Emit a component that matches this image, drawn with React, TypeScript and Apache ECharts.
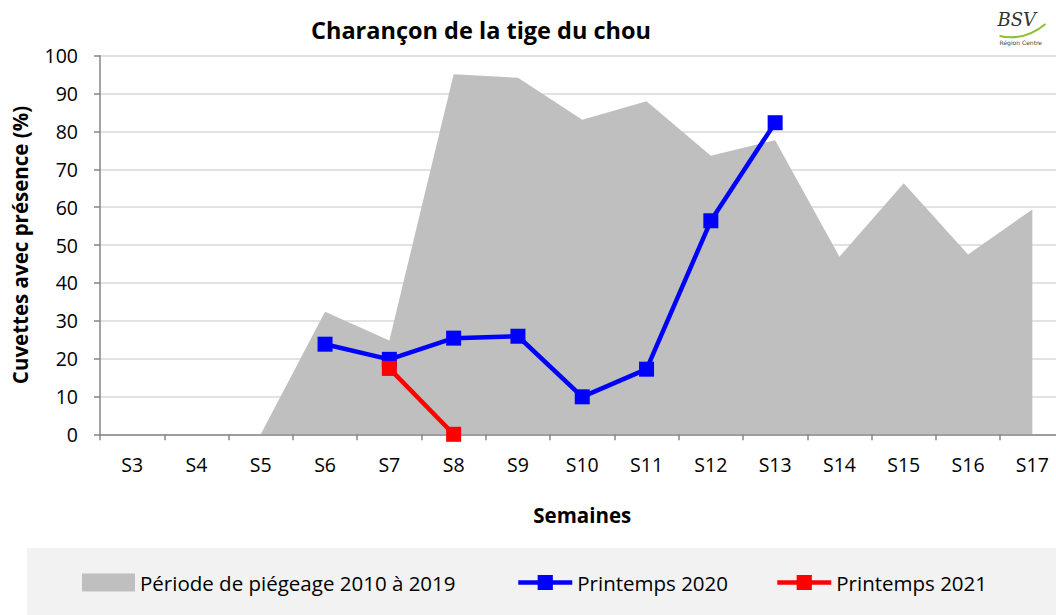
import React, { useEffect, useRef } from "react";
import * as echarts from "echarts";

const categories = ["S3", "S4", "S5", "S6", "S7", "S8", "S9", "S10", "S11", "S12", "S13", "S14", "S15", "S16", "S17"];
const periode = [0, 0, 0, 32.4, 24.8, 95.1, 94.2, 83.1, 88, 73.6, 77.7, 46.9, 66.3, 47.5, 59.4];
const printemps2020 = [null, null, null, 23.8, 19.8, 25.4, 25.9, 9.9, 17.2, 56.4, 82.3, null, null, null, null];
const printemps2021 = [null, null, null, null, 17.4, 0, null, null, null, null, null, null, null, null, null];
const yTicks = { min: 0, max: 100, interval: 10 };

const FONT = "Open Sans";

export default function App() {
  const ref = useRef<HTMLDivElement>(null);
  useEffect(() => {
    if (!ref.current) return;
    const chart = echarts.init(ref.current, null, { renderer: "svg" });
    const legendText = { fontFamily: FONT, fontSize: 20.5, color: "#000" };
    chart.setOption({
      animation: false,
      backgroundColor: "#fff",
      title: {
        text: "Charançon de la tige du chou",
        left: 476,
        textAlign: "center",
        top: 13,
        textStyle: { fontFamily: FONT, fontSize: 23.5, fontWeight: "bold", color: "#000" },
      },
      grid: { left: 100, top: 55.7, height: 378.6, width: 964.5, containLabel: false, outerBoundsMode: "none" },
      xAxis: {
        type: "category",
        data: categories,
        boundaryGap: true,
        name: "Semaines",
        nameLocation: "middle",
        nameGap: 70,
        nameTextStyle: { fontFamily: FONT, fontSize: 20.5, fontWeight: "bold", color: "#000", verticalAlign: "top" },
        axisLine: { show: true, lineStyle: { color: "#868686", width: 1.5 } },
        axisTick: { show: true, length: 6, lineStyle: { color: "#868686", width: 1.5 } },
        axisLabel: { fontFamily: FONT, fontSize: 19.5, color: "#000", margin: 20 },
        splitLine: { show: false },
      },
      yAxis: {
        type: "value",
        min: yTicks.min,
        max: yTicks.max,
        interval: yTicks.interval,
        name: "Cuvettes avec présence (%)",
        nameLocation: "middle",
        nameGap: 70,
        nameTextStyle: { fontFamily: FONT, fontSize: 20.5, fontWeight: "bold", color: "#000" },
        axisLine: { show: true, lineStyle: { color: "#868686", width: 1.5 } },
        axisTick: { show: true, length: 6, lineStyle: { color: "#868686", width: 1.5 } },
        axisLabel: { fontFamily: FONT, fontSize: 19.5, color: "#000", margin: 22 },
        splitLine: { show: true, lineStyle: { color: "#D9D9D9", width: 1.5 } },
      },
      legend: [
        {
          left: 82,
          top: 572,
          padding: 0,
          itemWidth: 53,
          itemHeight: 18,
          itemGap: 0,
          textStyle: legendText,
          data: [{ name: "Période de piégeage 2010 à 2019", icon: "rect" }],
        },
        {
          left: 516,
          top: 572,
          padding: 0,
          itemWidth: 54,
          itemHeight: 19,
          lineStyle: { width: 4.5 },
          textStyle: legendText,
          data: ["Printemps 2020"],
        },
        {
          left: 775,
          top: 572,
          padding: 0,
          itemWidth: 54,
          itemHeight: 19,
          lineStyle: { width: 4.5 },
          textStyle: legendText,
          data: ["Printemps 2021"],
        },
      ],
      graphic: [
        {
          type: "rect",
          z: -10,
          shape: { x: 27, y: 548, width: 1029, height: 67 },
          style: { fill: "#F2F2F2" },
          silent: true,
        },
        {
          type: "group",
          right: 8,
          top: 10,
          children: [
            {
              type: "text",
              x: 0,
              y: 0,
              style: { text: "BSV", font: "italic 18px 'DejaVu Serif'", fill: "#333" },
            },
            {
              type: "bezierCurve",
              shape: { x1: 2, y1: 26, x2: 48, y2: 14, cpx1: 20, cpy1: 30, cpx2: 36, cpy2: 24 },
              style: { stroke: "#8DBF2E", lineWidth: 2, fill: "none" },
            },
            {
              type: "text",
              x: 2,
              y: 29,
              style: { text: "Région Centre", font: "6px 'DejaVu Sans'", fill: "#444" },
            },
          ],
        },
      ],
      series: [
        {
          name: "Période de piégeage 2010 à 2019",
          type: "line",
          data: periode,
          symbol: "none",
          showSymbol: false,
          lineStyle: { width: 0, color: "#BFBFBF" },
          itemStyle: { color: "#BFBFBF" },
          areaStyle: { color: "#BFBFBF", opacity: 1 },
          z: 1,
        },
        {
          name: "Printemps 2020",
          type: "line",
          data: printemps2020,
          symbol: "rect",
          symbolSize: 15,
          lineStyle: { width: 4.5, color: "#0000FF" },
          itemStyle: { color: "#0000FF" },
          z: 3,
        },
        {
          name: "Printemps 2021",
          type: "line",
          data: printemps2021,
          symbol: "rect",
          symbolSize: 15,
          lineStyle: { width: 4.5, color: "#FF0000" },
          itemStyle: { color: "#FF0000" },
          z: 4,
          clip: false,
        },
      ],
    });
    return () => chart.dispose();
  }, []);
  return (
    <div
      ref={ref}
      style={{ position: "fixed", left: 0, top: 0, width: 1056, height: 615, overflow: "hidden" }}
    />
  );
}
